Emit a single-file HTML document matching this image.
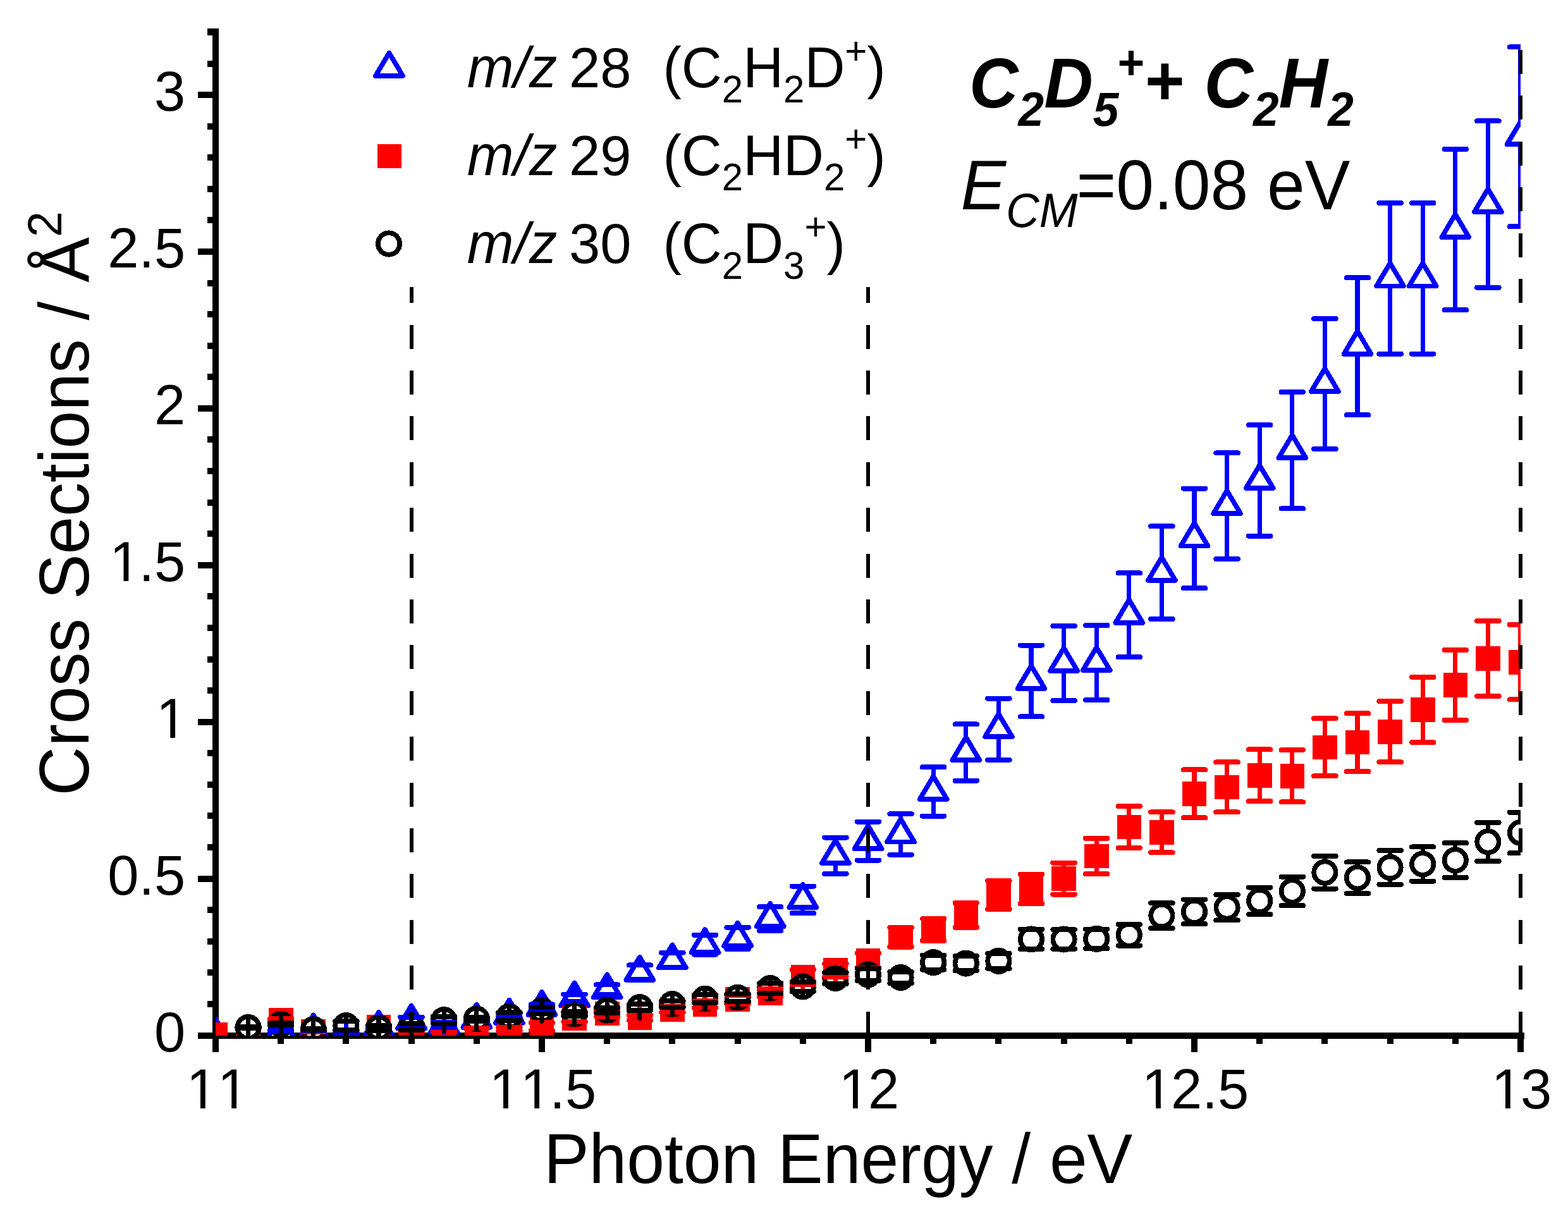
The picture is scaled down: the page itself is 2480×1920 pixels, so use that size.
<!DOCTYPE html>
<html><head><meta charset="utf-8"><title>Cross Sections vs Photon Energy</title>
<style>html,body{margin:0;padding:0;background:#fff;overflow:hidden}svg{display:block}text{font-kerning:none;font-feature-settings:"kern" 0}</style>
</head><body>
<svg width="2480" height="1920" viewBox="0 0 2480 1920">
<rect width="2480" height="1920" fill="#fff"/>
<defs><clipPath id="pc"><rect x="341" y="0" width="2064" height="1638"/></clipPath></defs>
<g fill="#000" shape-rendering="crispEdges"><rect x="336" y="45" width="10" height="1597.5"/><rect x="336" y="1632.5" width="2074.5" height="10"/><rect x="313" y="1632.5" width="23" height="10"/><rect x="328" y="1582.92" width="8" height="10"/><rect x="328" y="1533.34" width="8" height="10"/><rect x="328" y="1483.76" width="8" height="10"/><rect x="328" y="1434.18" width="8" height="10"/><rect x="313" y="1384.6" width="23" height="10"/><rect x="328" y="1335.02" width="8" height="10"/><rect x="328" y="1285.44" width="8" height="10"/><rect x="328" y="1235.86" width="8" height="10"/><rect x="328" y="1186.28" width="8" height="10"/><rect x="313" y="1136.7" width="23" height="10"/><rect x="328" y="1087.12" width="8" height="10"/><rect x="328" y="1037.54" width="8" height="10"/><rect x="328" y="987.96" width="8" height="10"/><rect x="328" y="938.38" width="8" height="10"/><rect x="313" y="888.8" width="23" height="10"/><rect x="328" y="839.22" width="8" height="10"/><rect x="328" y="789.64" width="8" height="10"/><rect x="328" y="740.06" width="8" height="10"/><rect x="328" y="690.48" width="8" height="10"/><rect x="313" y="640.9" width="23" height="10"/><rect x="328" y="591.32" width="8" height="10"/><rect x="328" y="541.74" width="8" height="10"/><rect x="328" y="492.16" width="8" height="10"/><rect x="328" y="442.58" width="8" height="10"/><rect x="313" y="393" width="23" height="10"/><rect x="328" y="343.42" width="8" height="10"/><rect x="328" y="293.84" width="8" height="10"/><rect x="328" y="244.26" width="8" height="10"/><rect x="328" y="194.68" width="8" height="10"/><rect x="313" y="145.1" width="23" height="10"/><rect x="328" y="95.52" width="8" height="10"/><rect x="328" y="45" width="8" height="11"/><rect x="336" y="1642.5" width="10" height="21.2"/><rect x="439.2" y="1642.5" width="10" height="8"/><rect x="542.4" y="1642.5" width="10" height="8"/><rect x="645.6" y="1642.5" width="10" height="8"/><rect x="748.8" y="1642.5" width="10" height="8"/><rect x="852" y="1642.5" width="10" height="21.2"/><rect x="955.2" y="1642.5" width="10" height="8"/><rect x="1058.4" y="1642.5" width="10" height="8"/><rect x="1161.6" y="1642.5" width="10" height="8"/><rect x="1264.8" y="1642.5" width="10" height="8"/><rect x="1368" y="1642.5" width="10" height="21.2"/><rect x="1471.2" y="1642.5" width="10" height="8"/><rect x="1574.4" y="1642.5" width="10" height="8"/><rect x="1677.6" y="1642.5" width="10" height="8"/><rect x="1780.8" y="1642.5" width="10" height="8"/><rect x="1884" y="1642.5" width="10" height="21.2"/><rect x="1987.2" y="1642.5" width="10" height="8"/><rect x="2090.4" y="1642.5" width="10" height="8"/><rect x="2193.6" y="1642.5" width="10" height="8"/><rect x="2296.8" y="1642.5" width="10" height="8"/><rect x="2400" y="1642.5" width="10" height="21.2"/></g>
<g clip-path="url(#pc)" shape-rendering="crispEdges">
<path fill="#fff" stroke="#00f" stroke-width="7.7" stroke-linejoin="round" d="M341 1611.91L362.5 1648.11L319.5 1648.11ZM392.6 1613.4L414.1 1649.6L371.1 1649.6ZM444.2 1605.96L465.7 1642.16L422.7 1642.16ZM495.8 1605.47L517.3 1641.67L474.3 1641.67ZM547.4 1610.92L568.9 1647.12L525.9 1647.12ZM599 1601.01L620.5 1637.2L577.5 1637.2ZM650.6 1590.49L672.1 1626.69L629.1 1626.69ZM702.2 1596.89L723.7 1633.09L680.7 1633.09ZM753.8 1588.66L775.3 1624.86L732.3 1624.86ZM805.4 1581.67L826.9 1617.87L783.9 1617.87ZM857 1568.78L878.5 1604.98L835.5 1604.98ZM908.6 1554.4L930.1 1590.6L887.1 1590.6ZM960.2 1541.26L981.7 1577.46L938.7 1577.46ZM1011.8 1513.74L1033.3 1549.94L990.3 1549.94ZM1063.4 1494.41L1084.9 1530.61L1041.9 1530.61ZM1115 1470.11L1136.5 1506.31L1093.5 1506.31ZM1166.6 1459.7L1188.1 1495.9L1145.1 1495.9ZM1218.2 1428.96L1239.7 1465.16L1196.7 1465.16ZM1269.8 1398.87L1291.3 1435.07L1248.3 1435.07ZM1321.4 1329.06L1342.9 1365.26L1299.9 1365.26ZM1373 1306.05L1394.5 1342.25L1351.5 1342.25ZM1424.6 1295.39L1446.1 1331.59L1403.1 1331.59ZM1476.2 1227.82L1497.7 1264.02L1454.7 1264.02ZM1527.8 1165.99L1549.3 1202.19L1506.3 1202.19ZM1579.4 1129.1L1600.9 1165.3L1557.9 1165.3ZM1631 1052.85L1652.5 1089.05L1609.5 1089.05ZM1682.6 1024.79L1704.1 1060.99L1661.1 1060.99ZM1734.2 1023.89L1755.7 1060.09L1712.7 1060.09ZM1785.8 948.68L1807.3 984.88L1764.3 984.88ZM1837.4 881.6L1858.9 917.8L1815.9 917.8ZM1889 827.31L1910.5 863.51L1867.5 863.51ZM1940.6 776.09L1962.1 812.29L1919.1 812.29ZM1992.2 735.83L2013.7 772.03L1970.7 772.03ZM2043.8 688.09L2065.3 724.29L2022.3 724.29ZM2095.4 582.88L2116.9 619.08L2073.9 619.08ZM2147 523.63L2168.5 559.83L2125.5 559.83ZM2198.6 416.19L2220.1 452.39L2177.1 452.39ZM2250.2 416.19L2271.7 452.39L2228.7 452.39ZM2301.8 338.95L2323.3 375.15L2280.3 375.15ZM2353.4 298.94L2374.9 335.14L2331.9 335.14ZM2405 192.14L2426.5 228.34L2383.5 228.34Z"/>
<path fill="#f00" d="M321.7 1617.21h38.6v38.6h-38.6ZM373.3 1635.06h38.6v38.6h-38.6ZM424.9 1594.4h38.6v38.6h-38.6ZM476.5 1612h38.6v38.6h-38.6ZM528.1 1613.24h38.6v38.6h-38.6ZM579.7 1604.81h38.6v38.6h-38.6ZM631.3 1612h38.6v38.6h-38.6ZM682.9 1619.69h38.6v38.6h-38.6ZM734.5 1622.17h38.6v38.6h-38.6ZM786.1 1608.38h38.6v38.6h-38.6ZM837.7 1604.42h38.6v38.6h-38.6ZM889.3 1590.93h38.6v38.6h-38.6ZM940.9 1583.59h38.6v38.6h-38.6ZM992.5 1590.19h38.6v38.6h-38.6ZM1044.1 1577.2h38.6v38.6h-38.6ZM1095.7 1569.31h38.6v38.6h-38.6ZM1147.3 1561.28h38.6v38.6h-38.6ZM1198.9 1550.92h38.6v38.6h-38.6ZM1250.5 1526.18h38.6v38.6h-38.6ZM1302.1 1514.88h38.6v38.6h-38.6ZM1353.7 1499.7h38.6v38.6h-38.6ZM1405.3 1462.87h38.6v38.6h-38.6ZM1456.9 1451.12h38.6v38.6h-38.6ZM1508.5 1428.06h38.6v38.6h-38.6ZM1560.1 1396.08h38.6v38.6h-38.6ZM1611.7 1386.66h38.6v38.6h-38.6ZM1663.3 1370.25h38.6v38.6h-38.6ZM1714.9 1334.7h38.6v38.6h-38.6ZM1766.5 1288.84h38.6v38.6h-38.6ZM1818.1 1297.12h38.6v38.6h-38.6ZM1869.7 1236.04h38.6v38.6h-38.6ZM1921.3 1225.63h38.6v38.6h-38.6ZM1972.9 1207.03h38.6v38.6h-38.6ZM2024.5 1208.02h38.6v38.6h-38.6ZM2076.1 1162.51h38.6v38.6h-38.6ZM2127.7 1154.83h38.6v38.6h-38.6ZM2179.3 1137.92h38.6v38.6h-38.6ZM2230.9 1103.31h38.6v38.6h-38.6ZM2282.5 1064.09h38.6v38.6h-38.6ZM2334.1 1022.1h38.6v38.6h-38.6ZM2385.7 1027.9h38.6v38.6h-38.6Z"/>
<g fill="#fff" stroke="#000" stroke-width="7.7"><circle cx="392.6" cy="1625.01" r="17.2"/><circle cx="444.2" cy="1619.65" r="17.2"/><circle cx="495.8" cy="1628.08" r="17.2"/><circle cx="547.4" cy="1622.13" r="17.2"/><circle cx="599" cy="1625.6" r="17.2"/><circle cx="650.6" cy="1623.92" r="17.2"/><circle cx="702.2" cy="1613.21" r="17.2"/><circle cx="753.8" cy="1611.42" r="17.2"/><circle cx="805.4" cy="1607.75" r="17.2"/><circle cx="857" cy="1597.84" r="17.2"/><circle cx="908.6" cy="1603.79" r="17.2"/><circle cx="960.2" cy="1597.84" r="17.2"/><circle cx="1011.8" cy="1593.18" r="17.2"/><circle cx="1063.4" cy="1588.07" r="17.2"/><circle cx="1115" cy="1579.69" r="17.2"/><circle cx="1166.6" cy="1577.71" r="17.2"/><circle cx="1218.2" cy="1563.13" r="17.2"/><circle cx="1269.8" cy="1560.3" r="17.2"/><circle cx="1321.4" cy="1546.97" r="17.2"/><circle cx="1373" cy="1541.31" r="17.2"/><circle cx="1424.6" cy="1545.98" r="17.2"/><circle cx="1476.2" cy="1522.18" r="17.2"/><circle cx="1527.8" cy="1523.57" r="17.2"/><circle cx="1579.4" cy="1519.9" r="17.2"/><circle cx="1631" cy="1485.49" r="17.2"/><circle cx="1682.6" cy="1485.49" r="17.2"/><circle cx="1734.2" cy="1484.79" r="17.2"/><circle cx="1785.8" cy="1478.7" r="17.2"/><circle cx="1837.4" cy="1448.1" r="17.2"/><circle cx="1889" cy="1441.86" r="17.2"/><circle cx="1940.6" cy="1435.31" r="17.2"/><circle cx="1992.2" cy="1424.85" r="17.2"/><circle cx="2043.8" cy="1409.43" r="17.2"/><circle cx="2095.4" cy="1379.73" r="17.2"/><circle cx="2147" cy="1388.26" r="17.2"/><circle cx="2198.6" cy="1371.95" r="17.2"/><circle cx="2250.2" cy="1366.55" r="17.2"/><circle cx="2301.8" cy="1360.55" r="17.2"/><circle cx="2353.4" cy="1331.34" r="17.2"/><circle cx="2405" cy="1316.92" r="17.2"/></g>
<path fill="none" stroke="#f00" stroke-width="7.2" stroke-linecap="round" d="M444.2 1598V1611.32M444.2 1629.4V1616.08M495.8 1615.6V1630.68M495.8 1647V1631.92M547.4 1616.84V1632.05M547.4 1648.24V1633.04M599 1608.41V1622.77M599 1639.81V1625.45M650.6 1615.6V1629.82M650.6 1647V1632.79M702.2 1623.29V1631.35M702.2 1654.69V1646.62M753.8 1625.77V1626.1M753.8 1657.17V1656.84M805.4 1611.98V1624.91M805.4 1643.38V1630.46M857 1608.02V1617.47M857 1639.42V1629.96M908.6 1594.53V1604.28M908.6 1625.93V1616.18M960.2 1587.19V1597.74M960.2 1618.59V1608.05M1011.8 1593.79V1605.52M1011.8 1625.19V1613.45M1063.4 1580.8V1591.74M1063.4 1612.2V1601.26M1115 1572.91V1583.21M1115 1604.31V1594.02M1166.6 1564.88V1573.64M1166.6 1596.28V1587.52M1218.2 1554.52V1564.02M1218.2 1585.92V1576.42M1269.8 1529.78V1533.58M1269.8 1561.18V1557.38M1321.4 1518.48V1523.84M1321.4 1549.88V1544.51M1373 1503.3V1507.15M1373 1534.7V1530.85M1424.6 1466.47V1466.8M1424.6 1497.87V1497.54M1476.2 1454.72V1453.06M1476.2 1486.12V1487.77M1527.8 1431.66V1428.02M1527.8 1463.06V1466.7M1579.4 1399.68V1392.77M1579.4 1431.08V1437.99M1631 1390.26V1382.86M1631 1421.66V1429.07M1682.6 1373.85V1364.56M1682.6 1405.25V1414.54M1734.2 1338.3V1325.74M1734.2 1369.7V1382.26M1785.8 1292.44V1275.12M1785.8 1323.84V1341.16M1837.4 1300.72V1284.44M1837.4 1332.12V1348.4M1889 1239.64V1217.41M1889 1271.04V1293.27M1940.6 1229.23V1205.41M1940.6 1260.63V1284.44M1992.2 1210.63V1185.43M1992.2 1242.03V1267.24M2043.8 1211.62V1186.17M2043.8 1243.02V1268.48M2095.4 1166.11V1136.3M2095.4 1197.51V1227.32M2147 1158.43V1128.16M2147 1189.83V1220.09M2198.6 1141.52V1109.13M2198.6 1172.92V1205.31M2250.2 1106.91V1071.05M2250.2 1138.31V1174.17M2301.8 1067.69V1027.86M2301.8 1099.09V1138.92M2353.4 1025.7V981.9M2353.4 1057.1V1100.9M2405 1031.5V987.95M2405 1062.9V1106.45"/>
<path fill="none" stroke="#f00" stroke-width="8.0" stroke-linecap="round" d="M426.95 1611.32H461.45M426.95 1616.08H461.45M478.55 1630.68H513.05M478.55 1631.92H513.05M530.15 1632.05H564.65M530.15 1633.04H564.65M581.75 1622.77H616.25M581.75 1625.45H616.25M633.35 1629.82H667.85M633.35 1632.79H667.85M684.95 1631.35H719.45M684.95 1646.62H719.45M736.55 1626.1H771.05M736.55 1656.84H771.05M788.15 1624.91H822.65M788.15 1630.46H822.65M839.75 1617.47H874.25M839.75 1629.96H874.25M891.35 1604.28H925.85M891.35 1616.18H925.85M942.95 1597.74H977.45M942.95 1608.05H977.45M994.55 1605.52H1029.05M994.55 1613.45H1029.05M1046.15 1591.74H1080.65M1046.15 1601.26H1080.65M1097.75 1583.21H1132.25M1097.75 1594.02H1132.25M1149.35 1573.64H1183.85M1149.35 1587.52H1183.85M1200.95 1564.02H1235.45M1200.95 1576.42H1235.45M1252.55 1533.58H1287.05M1252.55 1557.38H1287.05M1304.15 1523.84H1338.65M1304.15 1544.51H1338.65M1355.75 1507.15H1390.25M1355.75 1530.85H1390.25M1407.35 1466.8H1441.85M1407.35 1497.54H1441.85M1458.95 1453.06H1493.45M1458.95 1487.77H1493.45M1510.55 1428.02H1545.05M1510.55 1466.7H1545.05M1562.15 1392.77H1596.65M1562.15 1437.99H1596.65M1613.75 1382.86H1648.25M1613.75 1429.07H1648.25M1665.35 1364.56H1699.85M1665.35 1414.54H1699.85M1716.95 1325.74H1751.45M1716.95 1382.26H1751.45M1768.55 1275.12H1803.05M1768.55 1341.16H1803.05M1820.15 1284.44H1854.65M1820.15 1348.4H1854.65M1871.75 1217.41H1906.25M1871.75 1293.27H1906.25M1923.35 1205.41H1957.85M1923.35 1284.44H1957.85M1974.95 1185.43H2009.45M1974.95 1267.24H2009.45M2026.55 1186.17H2061.05M2026.55 1268.48H2061.05M2078.15 1136.3H2112.65M2078.15 1227.32H2112.65M2129.75 1128.16H2164.25M2129.75 1220.09H2164.25M2181.35 1109.13H2215.85M2181.35 1205.31H2215.85M2232.95 1071.05H2267.45M2232.95 1174.17H2267.45M2284.55 1027.86H2319.05M2284.55 1138.92H2319.05M2336.15 981.9H2370.65M2336.15 1100.9H2370.65M2387.75 987.95H2422.25M2387.75 1106.45H2422.25"/>
<path fill="none" stroke="#00f" stroke-width="7.2" stroke-linecap="round" d="M444.2 1605.96V1629.32M444.2 1642.16V1630.81M495.8 1605.47V1628.77M495.8 1641.67V1630.36M547.4 1610.92V1634.77M547.4 1647.12V1635.27M599 1601.01V1623.87M599 1637.2V1626.34M650.6 1590.49V1608.5M650.6 1626.69V1620.69M702.2 1596.89V1616.78M702.2 1633.09V1625.2M753.8 1588.66V1610.29M753.8 1624.86V1615.23M805.4 1581.67V1602.6M805.4 1617.87V1608.94M857 1568.78V1588.42M857 1604.98V1597.34M908.6 1554.4V1572.55M908.6 1590.6V1584.45M960.2 1541.26V1557.43M960.2 1577.46V1573.29M1011.8 1513.74V1526.44M1011.8 1549.94V1549.25M1063.4 1494.41V1506.61M1063.4 1530.61V1530.41M1115 1470.11V1478.84M1115 1506.31V1509.58M1166.6 1459.7V1466.7M1166.6 1495.9V1500.91M1218.2 1428.96V1434.22M1218.2 1465.16V1471.9M1269.8 1398.87V1401.65M1269.8 1435.07V1444.29M1321.4 1329.06V1324.55M1321.4 1365.26V1381.77M1373 1306.05V1299.66M1373 1342.25V1360.65M1424.6 1295.39V1287.27M1424.6 1331.59V1351.72M1476.2 1227.82V1213.24M1476.2 1264.02V1290.59M1527.8 1165.99V1145.47M1527.8 1202.19V1234.71M1579.4 1129.1V1104.61M1579.4 1165.3V1201.79M1631 1052.85V1020.53M1631 1089.05V1133.37M1682.6 1024.79V989.89M1682.6 1060.99V1107.89M1734.2 1023.89V988.99M1734.2 1060.09V1106.99M1785.8 948.68V906.34M1785.8 984.88V1039.22M1837.4 881.6V832.32M1837.4 917.8V979.08M1889 827.31V772.58M1889 863.51V930.24M1940.6 776.09V716.4M1940.6 812.29V883.98M1992.2 735.83V672.18M1992.2 772.03V847.69M2043.8 688.09V619.97M2043.8 724.29V804.41M2095.4 582.88V503.85M2095.4 619.08V710.11M2147 523.63V439.3M2147 559.83V656.16M2198.6 416.19V320.95M2198.6 452.39V559.63M2250.2 416.19V320.95M2250.2 452.39V559.63M2301.8 338.95V235.82M2301.8 375.15V490.27M2353.4 298.94V191.4M2353.4 335.14V454.67M2405 192.14V74.34M2405 228.34V358.14"/>
<path fill="none" stroke="#00f" stroke-width="8.0" stroke-linecap="round" d="M426.95 1629.32H461.45M426.95 1630.81H461.45M478.55 1628.77H513.05M478.55 1630.36H513.05M530.15 1634.77H564.65M530.15 1635.27H564.65M581.75 1623.87H616.25M581.75 1626.34H616.25M633.35 1608.5H667.85M633.35 1620.69H667.85M684.95 1616.78H719.45M684.95 1625.2H719.45M736.55 1610.29H771.05M736.55 1615.23H771.05M788.15 1602.6H822.65M788.15 1608.94H822.65M839.75 1588.42H874.25M839.75 1597.34H874.25M891.35 1572.55H925.85M891.35 1584.45H925.85M942.95 1557.43H977.45M942.95 1573.29H977.45M994.55 1526.44H1029.05M994.55 1549.25H1029.05M1046.15 1506.61H1080.65M1046.15 1530.41H1080.65M1097.75 1478.84H1132.25M1097.75 1509.58H1132.25M1149.35 1466.7H1183.85M1149.35 1500.91H1183.85M1200.95 1434.22H1235.45M1200.95 1471.9H1235.45M1252.55 1401.65H1287.05M1252.55 1444.29H1287.05M1304.15 1324.55H1338.65M1304.15 1381.77H1338.65M1355.75 1299.66H1390.25M1355.75 1360.65H1390.25M1407.35 1287.27H1441.85M1407.35 1351.72H1441.85M1458.95 1213.24H1493.45M1458.95 1290.59H1493.45M1510.55 1145.47H1545.05M1510.55 1234.71H1545.05M1562.15 1104.61H1596.65M1562.15 1201.79H1596.65M1613.75 1020.53H1648.25M1613.75 1133.37H1648.25M1665.35 989.89H1699.85M1665.35 1107.89H1699.85M1716.95 988.99H1751.45M1716.95 1106.99H1751.45M1768.55 906.34H1803.05M1768.55 1039.22H1803.05M1820.15 832.32H1854.65M1820.15 979.08H1854.65M1871.75 772.58H1906.25M1871.75 930.24H1906.25M1923.35 716.4H1957.85M1923.35 883.98H1957.85M1974.95 672.18H2009.45M1974.95 847.69H2009.45M2026.55 619.97H2061.05M2026.55 804.41H2061.05M2078.15 503.85H2112.65M2078.15 710.11H2112.65M2129.75 439.3H2164.25M2129.75 656.16H2164.25M2181.35 320.95H2215.85M2181.35 559.63H2215.85M2232.95 320.95H2267.45M2232.95 559.63H2267.45M2284.55 235.82H2319.05M2284.55 490.27H2319.05M2336.15 191.4H2370.65M2336.15 454.67H2370.65M2387.75 74.34H2422.25M2387.75 358.14H2422.25"/>
<path fill="none" stroke="#000" stroke-width="7.2" stroke-linecap="round" d="M392.6 1607.81V1623.76M392.6 1642.21V1626.26M444.2 1602.45V1617.87M444.2 1636.85V1621.44M495.8 1610.88V1627.44M495.8 1645.28V1628.72M547.4 1604.93V1614.94M547.4 1639.33V1629.32M599 1608.4V1621.63M599 1642.8V1629.57M650.6 1606.72V1619.06M650.6 1641.12V1628.77M702.2 1596.01V1607.5M702.2 1630.41V1618.91M753.8 1594.22V1608.81M753.8 1628.62V1614.03M805.4 1590.55V1601.31M805.4 1624.95V1614.2M857 1580.64V1592.88M857 1615.04V1602.79M908.6 1586.59V1600.41M908.6 1620.99V1607.16M960.2 1580.64V1593.57M960.2 1615.04V1602.1M1011.8 1575.98V1588.47M1011.8 1610.38V1597.89M1063.4 1570.87V1582.81M1063.4 1605.27V1593.32M1115 1562.49V1573.44M1115 1596.89V1585.94M1166.6 1560.51V1571.73M1166.6 1594.91V1583.69M1218.2 1545.93V1555.2M1218.2 1580.33V1571.06M1269.8 1543.1V1552.58M1269.8 1577.5V1568.02M1321.4 1529.77V1537.91M1321.4 1564.17V1556.02M1373 1524.11V1531.7M1373 1558.51V1550.93M1424.6 1528.78V1536.82M1424.6 1563.18V1555.13M1476.2 1504.98V1510.77M1476.2 1539.38V1533.58M1527.8 1506.37V1512.17M1527.8 1540.77V1534.96M1579.4 1502.7V1508.14M1579.4 1537.1V1531.66M1631 1468.29V1469.92M1631 1502.69V1501.06M1682.6 1468.29V1470.29M1682.6 1502.69V1500.69M1734.2 1467.59V1469.52M1734.2 1501.99V1500.06M1785.8 1461.5V1461.84M1785.8 1495.9V1495.55M1837.4 1430.9V1428.27M1837.4 1465.3V1467.94M1889 1424.66V1422.52M1889 1459.06V1461.19M1940.6 1418.11V1415.18M1940.6 1452.51V1455.44M1992.2 1407.65V1403.53M1992.2 1442.05V1446.17M2043.8 1392.23V1386.63M2043.8 1426.63V1432.24M2095.4 1362.53V1353.95M2095.4 1396.93V1405.52M2147 1371.06V1363.47M2147 1405.46V1413.05M2198.6 1354.75V1345.18M2198.6 1389.15V1398.72M2250.2 1349.35V1339.45M2250.2 1383.75V1393.64M2301.8 1343.35V1333.28M2301.8 1377.75V1387.82M2353.4 1314.14V1300.75M2353.4 1348.54V1361.93M2405 1299.72V1284.69M2405 1334.12V1349.14"/>
<path fill="none" stroke="#000" stroke-width="8.0" stroke-linecap="round" d="M375.35 1623.76H409.85M375.35 1626.26H409.85M426.95 1617.87H461.45M426.95 1621.44H461.45M478.55 1627.44H513.05M478.55 1628.72H513.05M530.15 1614.94H564.65M530.15 1629.32H564.65M581.75 1621.63H616.25M581.75 1629.57H616.25M633.35 1619.06H667.85M633.35 1628.77H667.85M684.95 1607.5H719.45M684.95 1618.91H719.45M736.55 1608.81H771.05M736.55 1614.03H771.05M788.15 1601.31H822.65M788.15 1614.2H822.65M839.75 1592.88H874.25M839.75 1602.79H874.25M891.35 1600.41H925.85M891.35 1607.16H925.85M942.95 1593.57H977.45M942.95 1602.1H977.45M994.55 1588.47H1029.05M994.55 1597.89H1029.05M1046.15 1582.81H1080.65M1046.15 1593.32H1080.65M1097.75 1573.44H1132.25M1097.75 1585.94H1132.25M1149.35 1571.73H1183.85M1149.35 1583.69H1183.85M1200.95 1555.2H1235.45M1200.95 1571.06H1235.45M1252.55 1552.58H1287.05M1252.55 1568.02H1287.05M1304.15 1537.91H1338.65M1304.15 1556.02H1338.65M1355.75 1531.7H1390.25M1355.75 1550.93H1390.25M1407.35 1536.82H1441.85M1407.35 1555.13H1441.85M1458.95 1510.77H1493.45M1458.95 1533.58H1493.45M1510.55 1512.17H1545.05M1510.55 1534.96H1545.05M1562.15 1508.14H1596.65M1562.15 1531.66H1596.65M1613.75 1469.92H1648.25M1613.75 1501.06H1648.25M1665.35 1470.29H1699.85M1665.35 1500.69H1699.85M1716.95 1469.52H1751.45M1716.95 1500.06H1751.45M1768.55 1461.84H1803.05M1768.55 1495.55H1803.05M1820.15 1428.27H1854.65M1820.15 1467.94H1854.65M1871.75 1422.52H1906.25M1871.75 1461.19H1906.25M1923.35 1415.18H1957.85M1923.35 1455.44H1957.85M1974.95 1403.53H2009.45M1974.95 1446.17H2009.45M2026.55 1386.63H2061.05M2026.55 1432.24H2061.05M2078.15 1353.95H2112.65M2078.15 1405.52H2112.65M2129.75 1363.47H2164.25M2129.75 1413.05H2164.25M2181.35 1345.18H2215.85M2181.35 1398.72H2215.85M2232.95 1339.45H2267.45M2232.95 1393.64H2267.45M2284.55 1333.28H2319.05M2284.55 1387.82H2319.05M2336.15 1300.75H2370.65M2336.15 1361.93H2370.65M2387.75 1284.69H2422.25M2387.75 1349.14H2422.25"/>
</g>
<g stroke="#000" stroke-width="6" stroke-dasharray="38 34.4" fill="none" shape-rendering="crispEdges">
<path d="M650.6 1637.5V454"/>
<path d="M1373 1637.5V454"/>
<path d="M2405 1637.5V50"/>
</g>
<g font-family="Liberation Sans, Arial, sans-serif" font-size="88.5" fill="#000"><text x="244.08" y="1662.7">0</text><text x="170.27 219.49 244.08" y="1414.8">0.5</text><text x="247.02" y="1166.9">1</text><text x="173.21 219.49 244.08" y="919">1.5</text><text x="244.08" y="671.1">2</text><text x="170.27 219.49 244.08" y="423.2">2.5</text><text x="244.08" y="175.3">3</text><text x="294.72 343.94" y="1752.9">11</text><text x="773.82 823.03 869.32 893.9" y="1752.9">11.5</text><text x="1326.72 1373" y="1752.9">12</text><text x="1805.82 1852.1 1901.32 1925.9" y="1752.9">12.5</text><text x="2358.72 2405" y="1752.9">13</text></g>
<g fill="#fff"><rect x="252.2" y="1159.69" width="17.07" height="8.21"/><rect x="277.1" y="1159.69" width="16.16" height="8.21"/><rect x="178.4" y="911.79" width="17.07" height="8.21"/><rect x="203.29" y="911.79" width="16.16" height="8.21"/><rect x="299.9" y="1745.69" width="17.07" height="8.21"/><rect x="324.8" y="1745.69" width="16.16" height="8.21"/><rect x="349.12" y="1745.69" width="17.07" height="8.21"/><rect x="374.01" y="1745.69" width="16.16" height="8.21"/><rect x="779" y="1745.69" width="17.07" height="8.21"/><rect x="803.89" y="1745.69" width="16.16" height="8.21"/><rect x="828.22" y="1745.69" width="17.07" height="8.21"/><rect x="853.11" y="1745.69" width="16.16" height="8.21"/><rect x="1331.9" y="1745.69" width="17.07" height="8.21"/><rect x="1356.8" y="1745.69" width="16.16" height="8.21"/><rect x="1811" y="1745.69" width="17.07" height="8.21"/><rect x="1835.89" y="1745.69" width="16.16" height="8.21"/><rect x="2363.9" y="1745.69" width="17.07" height="8.21"/><rect x="2388.8" y="1745.69" width="16.16" height="8.21"/></g>
<text font-family="Liberation Sans, Arial, sans-serif" font-size="107.4" x="859.9" y="1871.5" transform="matrix(1 0 0 1.03 0 -56.15)">Photon Energy / eV</text>
<text font-family="Liberation Sans, Arial, sans-serif" font-size="107.4" transform="translate(140 1258.4) rotate(-90) scale(1 1.03)">Cross Sections / Å<tspan font-size="73" dy="-41.84">2</tspan></text>
<g font-family="Liberation Sans, Arial, sans-serif" font-size="88.5" fill="#000"><text x="738.7" y="137.9" font-style="italic" transform="matrix(1 0 0 1.03 0 -4.14)">m/z</text><text x="900.1" y="137.9" transform="matrix(1 0 0 1.01 0 -1.38)">28</text><text x="1048.4" y="137.9" transform="matrix(1 0 0 1.03 0 -4.14)">(C<tspan dy="23.59" font-size="60">2</tspan><tspan dy="-23.59" font-size="88.5">H</tspan><tspan dy="23.59" font-size="60">2</tspan><tspan dy="-23.59" font-size="88.5">D</tspan><tspan dy="-36.12" font-size="60">+</tspan><tspan dy="36.12">)</tspan></text><text x="738.7" y="276.9" font-style="italic" transform="matrix(1 0 0 1.03 0 -8.31)">m/z</text><text x="900.1" y="276.9" transform="matrix(1 0 0 1.01 0 -2.77)">29</text><text x="1048.4" y="276.9" transform="matrix(1 0 0 1.03 0 -8.31)">(C<tspan dy="23.59" font-size="60">2</tspan><tspan dy="-23.59" font-size="88.5">H</tspan><tspan dy="0" font-size="88.5">D</tspan><tspan dy="23.59" font-size="60">2</tspan><tspan dy="-59.71" font-size="60">+</tspan><tspan dy="36.12">)</tspan></text><text x="738.7" y="416.4" font-style="italic" transform="matrix(1 0 0 1.03 0 -12.49)">m/z</text><text x="900.1" y="416.4" transform="matrix(1 0 0 1.01 0 -4.16)">30</text><text x="1048.4" y="416.4" transform="matrix(1 0 0 1.03 0 -12.49)">(C<tspan dy="23.59" font-size="60">2</tspan><tspan dy="-23.59" font-size="88.5">D</tspan><tspan dy="23.59" font-size="60">3</tspan><tspan dy="-59.71" font-size="60">+</tspan><tspan dy="36.12">)</tspan></text></g>
<g shape-rendering="crispEdges">
<path fill="#fff" stroke="#00f" stroke-width="7.7" stroke-linejoin="round" d="M615.5 83.7L637 119.9L594 119.9Z"/>
<rect x="596.7" y="227.8" width="38.6" height="38.6" fill="#f00"/>
<circle cx="615" cy="385.5" r="17.2" fill="#fff" stroke="#000" stroke-width="7.7"/>
</g>
<text font-family="Liberation Sans, Arial, sans-serif" font-size="107.4" font-weight="bold" font-style="italic" x="1533" y="169.6" transform="matrix(1 0 0 1.035 0 -5.94)">C<tspan font-size="73" dy="28.31">2</tspan><tspan dy="-28.31">D</tspan><tspan font-size="73" dy="28.31">5</tspan><tspan font-size="73" dx="-3" dy="-71.5">+</tspan><tspan dy="39.81">+</tspan><tspan dx="3" dy="3.38"> C</tspan><tspan font-size="73" dy="28.31">2</tspan><tspan dy="-28.31">H</tspan><tspan font-size="73" dy="28.31">2</tspan></text>
<text font-family="Liberation Sans, Arial, sans-serif" font-size="107.4" x="1519.4" y="330.6" transform="matrix(1 0 0 1.03 0 -9.92)"><tspan font-style="italic">E</tspan><tspan font-style="italic" font-size="73" dy="27.86">CM</tspan><tspan dx="-2" dy="-27.86">=0.08 eV</tspan></text>
</svg>
</body></html>
